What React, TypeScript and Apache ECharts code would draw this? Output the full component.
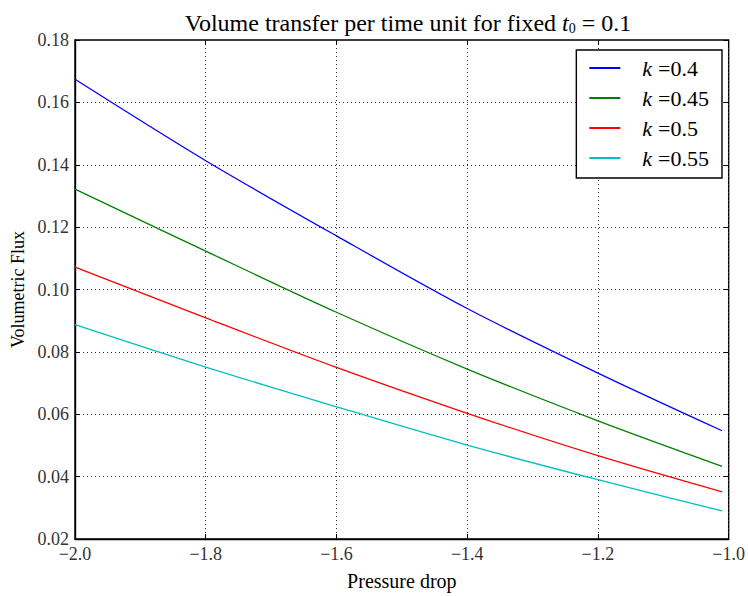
import React, { useEffect, useRef } from "react";
import * as echarts from "echarts";

const pressure = [-2.0, -1.8, -1.6, -1.4, -1.2, -1.01];
const kLabels = ["0.4", "0.45", "0.5", "0.55"];
const fluxK040 = [0.1674, 0.1413, 0.1172, 0.0939, 0.0732, 0.0547];
const fluxK045 = [0.1322, 0.1123, 0.0927, 0.0745, 0.0579, 0.0433];
const fluxK050 = [0.1072, 0.0909, 0.075, 0.0603, 0.0467, 0.0351];
const fluxK055 = [0.0887, 0.0751, 0.0624, 0.0501, 0.039, 0.029];
const colors = ["#0000ff", "#008000", "#ff0000", "#00bfbf"];

const FONT = "Liberation Serif";

export default function App() {
  const ref = useRef<HTMLDivElement>(null);
  useEffect(() => {
    if (!ref.current) return;
    const chart = echarts.init(ref.current, null, { renderer: "svg" });
    const allSeries = [fluxK040, fluxK045, fluxK050, fluxK055];
    const names = kLabels.map((k) => "k =" + k);
    const fmtMinus = (s: string) => s.replace("-", "\u2212");
    const tickStyle = { show: true, inside: true, length: 5, lineStyle: { color: "#000", width: 1 } };
    chart.setOption({
      animation: false,
      backgroundColor: "#fff",
      title: {
        text: "{a|Volume transfer per time unit for fixed }{i|t}{s|0}{a| = 0.1}",
        left: 403,
        textAlign: "center",
        top: 6,
        textStyle: {
          fontWeight: "normal",
          rich: {
            a: { fontFamily: FONT, fontSize: 24, fontWeight: "normal", color: "#000" },
            i: { fontFamily: FONT, fontSize: 24, fontStyle: "italic", fontWeight: "normal", color: "#000" },
            s: { fontFamily: FONT, fontSize: 14, fontWeight: "normal", color: "#000", verticalAlign: "bottom", padding: [10, 0, 0, 0] },
          },
        },
      },
      legend: {
        orient: "vertical",
        right: 26,
        top: 50,
        padding: [7, 13, 9, 13],
        borderColor: "#000",
        borderWidth: 1.4,
        borderRadius: 0,
        backgroundColor: "#fff",
        itemWidth: 31,
        itemHeight: 2,
        itemGap: 8,
        icon: "rect",
        data: names,
        formatter: (n: string) => "{i|k}{a|=" + n.slice(3) + "}",
        textStyle: {
          fontFamily: FONT,
          padding: [0, 0, 0, 17],
          rich: {
            i: { fontFamily: FONT, fontSize: 22, fontStyle: "italic", color: "#000", lineHeight: 20 },
            a: { fontFamily: FONT, fontSize: 22, color: "#000", lineHeight: 20, padding: [0, 0, 0, 6] },
          },
        },
      },
      grid: { left: 75, right: 17, top: 40, bottom: 48, show: true, borderColor: "#000", borderWidth: 1.4 },
      xAxis: [
        {
          type: "value",
          min: -2,
          max: -1,
          interval: 0.2,
          name: "Pressure drop",
          nameLocation: "middle",
          nameGap: 32,
          nameTextStyle: { fontFamily: FONT, fontSize: 20, color: "#000" },
          axisLine: { show: true, lineStyle: { color: "#000", width: 1.4 } },
          axisTick: tickStyle,
          axisLabel: {
            fontFamily: FONT,
            fontSize: 18,
            color: "#333",
            margin: 6,
            formatter: (v: number) => fmtMinus(v.toFixed(1)),
          },
          splitLine: { show: true, lineStyle: { color: "#333", type: [1, 3], width: 1 } },
        },
        {
          type: "value",
          position: "top",
          min: -2,
          max: -1,
          interval: 0.2,
          axisLine: { show: false },
          axisTick: tickStyle,
          axisLabel: { show: false },
          splitLine: { show: false },
        },
      ],
      yAxis: [
        {
          type: "value",
          min: 0.02,
          max: 0.18,
          interval: 0.02,
          name: "Volumetric Flux",
          nameLocation: "middle",
          nameGap: 40,
          nameTextStyle: { fontFamily: FONT, fontSize: 18, color: "#000" },
          axisLine: { show: true, lineStyle: { color: "#000", width: 1.4 } },
          axisTick: tickStyle,
          axisLabel: {
            fontFamily: FONT,
            fontSize: 18,
            color: "#333",
            margin: 6,
            formatter: (v: number) => v.toFixed(2),
          },
          splitLine: { show: true, lineStyle: { color: "#333", type: [1, 3], width: 1 } },
        },
        {
          type: "value",
          position: "right",
          min: 0.02,
          max: 0.18,
          interval: 0.02,
          axisLine: { show: false },
          axisTick: tickStyle,
          axisLabel: { show: false },
          splitLine: { show: false },
        },
      ],
      series: allSeries.map((vals, i) => ({
        name: names[i],
        type: "line",
        data: pressure.map((x, j) => [x, vals[j]]),
        showSymbol: false,
        smooth: 0.3,
        color: colors[i],
        lineStyle: { color: colors[i], width: 1.3 },
        xAxisIndex: 0,
        yAxisIndex: 0,
      })),
    });
    return () => chart.dispose();
  }, []);
  return (
    <div
      ref={ref}
      style={{ position: "absolute", left: 0, top: 0, width: 748, height: 596 }}
    />
  );
}
